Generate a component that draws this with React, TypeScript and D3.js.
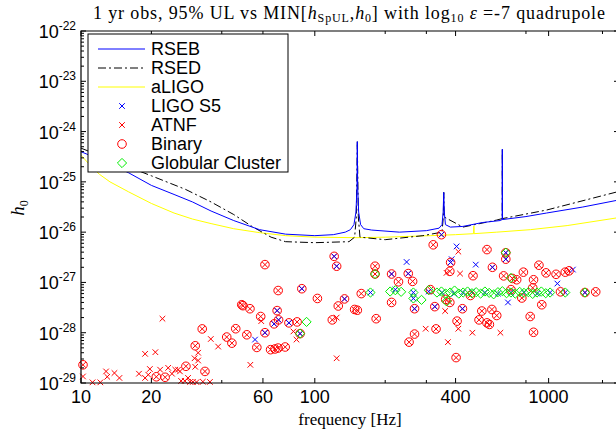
import React from 'react';
import * as d3 from 'd3';

// curves: [frequency Hz, h0]
const rseb: [number, number][] = [
  [10, 3.98e-25], [13, 2.4e-25], [16, 1.51e-25], [20, 8.51e-26], [25, 5.62e-26], [30, 3.98e-26],
  [36, 2.63e-26], [45, 1.7e-26], [58, 1.12e-26], [75, 9.12e-27], [100, 8.51e-27], [120, 8.91e-27],
  [135, 1.0e-26], [142, 1.12e-26], [147, 1.41e-26], [150, 2.51e-26], [151.5, 7.94e-26], [152, 6.31e-25],
  [152.5, 7.94e-26], [154, 2.51e-26], [157, 1.41e-26], [162, 1.17e-26], [175, 1.1e-26], [230, 1.0e-26],
  [300, 1.07e-26], [340, 1.2e-26], [350, 1.41e-26], [354, 2.51e-26], [356, 6.17e-26], [358, 2.51e-26],
  [362, 1.41e-26], [380, 1.26e-26], [430, 1.3e-26], [520, 1.55e-26], [620, 1.7e-26], [633, 1.78e-26],
  [634, 4.47e-25], [635, 1.78e-26], [800, 2.04e-26], [980, 2.4e-26], [1400, 3.16e-26], [2000, 4.37e-26],
];

const rsed: [number, number][] = [
  [10, 4.68e-25], [14, 2.51e-25], [20, 1.32e-25], [28, 7.08e-26], [36, 3.98e-26], [45, 2.24e-26],
  [54, 1.29e-26], [65, 7.94e-27], [75, 6.46e-27], [100, 6.17e-27], [140, 6.46e-27], [148, 7.94e-27],
  [150.5, 2.0e-26], [152, 6.31e-25], [153.5, 2.0e-26], [156, 7.94e-27], [200, 7.08e-27], [290, 8.51e-27],
  [350, 1.0e-26], [354.5, 2.0e-26], [356, 6.17e-26], [357.5, 2.0e-26], [430, 1.26e-26], [600, 1.74e-26],
  [633, 1.86e-26], [634, 4.47e-25], [635, 1.86e-26], [980, 2.75e-26], [2000, 6.46e-26],
];

const aligo: [number, number][] = [
  [10, 3.39e-25], [11, 2.09e-25], [12, 1.41e-25], [13.3, 1.0e-25], [16, 6.31e-26], [20, 3.72e-26],
  [25, 2.4e-26], [30, 1.82e-26], [36, 1.48e-26], [45, 1.17e-26], [58, 9.77e-27], [75, 8.51e-27],
  [100, 7.94e-27], [150, 7.76e-27], [200, 7.94e-27], [312, 8.51e-27], [400, 8.91e-27], [478, 9.33e-27],
  [479, 1.32e-26], [480, 9.33e-27], [600, 1.0e-26], [836, 1.12e-26], [1200, 1.35e-26], [2000, 1.95e-26],
];

// pulsars
const atnf: [number, number][] = [
  [10.2, 1.35e-29], [11.2, 1.03e-29], [12.1, 1.03e-29], [12.8, 1.7e-29], [12.95, 1.33e-29], [13.9, 1.58e-29],
  [14.6, 1.26e-29], [17.7, 1.53e-29], [18.8, 1.26e-29], [18.8, 3.8e-29], [20.8, 4.1e-29], [22.3, 1.9e-28],
  [19.7, 1.9e-29], [19.4, 1.46e-29], [21.8, 1.84e-29], [23.6, 2.0e-29], [24.5, 1.53e-29], [25.3, 1.84e-29],
  [26.0, 1.84e-29], [26.5, 1.7e-29], [26.8, 1.1e-29], [27.8, 1.1e-29], [28.7, 1.26e-29], [29.3, 1.05e-29],
  [30.1, 1.05e-29], [31.2, 1.04e-29], [30.6, 3.1e-29], [31.7, 2.8e-29], [31.7, 4.0e-29], [30.8, 2.1e-29],
  [35.6, 1.05e-29], [33.2, 1.06e-29], [35.9, 7.5e-29], [38.6, 5.3e-29], [53, 2.3e-29], [59, 1.7e-28],
  [81, 1.06e-28], [83.5, 7.3e-29], [124, 3.1e-29], [124, 2.0e-28], [411, 4.1e-27], [366, 1.55e-27],
  [418, 1.5e-27], [361, 2.7e-28], [298, 1.2e-28], [411, 1.2e-28], [472, 1.0e-28], [622, 1.0e-28],
  [371, 6.5e-29],
];

const binary: [number, number][] = [
  [10.2, 2.3e-29], [21.0, 1.33e-29], [22.9, 1.3e-29], [28.1, 2.15e-29], [30.8, 5.5e-29], [33.9, 1.7e-29],
  [33.0, 1.19e-28], [42.0, 8.2e-29], [44.2, 6.2e-29], [45.9, 1.2e-28], [48.7, 3.6e-28], [49.3, 3.45e-28],
  [52.8, 3.0e-28], [51.2, 9.1e-29], [56.5, 5.1e-29], [58.7, 2.1e-28], [61.2, 2.26e-27], [64.7, 4.6e-29],
  [67.5, 4.75e-29], [69.7, 4.95e-29], [74.7, 5.2e-29], [69.7, 6.9e-28], [84, 1.64e-28], [102.6, 4.8e-28],
  [118.8, 1.8e-28], [126, 3.4e-28], [321, 5.6e-27], [545, 4.5e-27], [181, 2.1e-27], [909, 2.2e-27],
  [975, 1.55e-27], [1076, 1.45e-27], [1178, 1.6e-27], [1223, 1.7e-27], [780, 1.6e-27], [475, 1.36e-27],
  [378, 1.66e-27], [642, 1.35e-27], [228, 1.03e-27], [262, 1.05e-27], [862, 1.13e-27], [158, 6.0e-28],
  [148, 2.9e-28], [152, 2.8e-28], [183, 1.9e-28], [213, 4.0e-28], [378, 4.0e-28], [518, 2.7e-28],
  [572, 2.9e-28], [406, 1.7e-28], [504, 1.8e-28], [545, 1.57e-28], [558, 1.46e-28], [600, 2.2e-28],
  [834, 2.1e-28], [935, 3.6e-28], [768, 4.9e-28], [330, 1.19e-28], [862, 1.02e-28], [267, 9.4e-29],
  [253, 6.5e-29], [402, 3.2e-29], [348, 8.9e-27], [121, 3.3e-27], [124, 2.1e-27], [656, 2.9e-27],
  [381, 2.5e-27], [575, 2.0e-27], [213, 1.47e-27], [251, 1.5e-27], [61.2, 1.0e-28], [69, 2.75e-28],
  [70, 1.8e-28], [67, 1.5e-28], [77.5, 1.57e-28], [86.5, 9.6e-29], [88, 7.5e-28], [267, 3.0e-28],
  [326, 3.3e-28], [428, 3.0e-28], [134, 4.7e-28], [181, 1.47e-27], [656, 3.9e-27], [312, 7.2e-28],
  [363, 4.6e-28], [463, 5.5e-28], [690, 7.2e-28], [855, 7.8e-28], [1124, 6.5e-28], [1430, 6.3e-28],
  [1590, 6.5e-28], [730, 1.13e-27], [700, 1.2e-27],
];

const ligoS5: [number, number][] = [
  [348, 8.9e-27], [121, 3.3e-27], [124, 2.1e-27], [404, 5.2e-27], [656, 3.9e-27], [656, 2.9e-27],
  [247, 2.55e-27], [381, 2.5e-27], [385, 2.9e-27], [488, 2.26e-27], [575, 2.0e-27], [213, 1.47e-27],
  [251, 1.5e-27], [1270, 1.8e-27], [1090, 9.5e-28], [55.5, 7.3e-29], [61.2, 1.0e-28], [69, 2.75e-28],
  [70, 1.8e-28], [67, 1.5e-28], [77.5, 1.57e-28], [86.5, 9.6e-29], [88, 7.5e-28], [267, 3.0e-28],
  [326, 3.3e-28], [428, 3.0e-28], [670, 4.0e-28], [134, 4.7e-28], [173, 6.3e-28], [221, 7.2e-28],
  [264, 6.3e-28], [264, 4.8e-28], [307, 6.6e-28], [350, 6.3e-28], [395, 6.0e-28], [430, 6.3e-28],
  [470, 6.5e-28], [534, 6.3e-28], [607, 6.0e-28], [690, 6.3e-28], [785, 6.3e-28], [892, 6.0e-28],
  [1015, 6.3e-28], [1178, 6.3e-28], [1430, 6.3e-28],
];

const globular: [number, number][] = [
  [86.5, 9.6e-29], [92.2, 1.64e-28], [181, 1.47e-27], [656, 3.9e-27], [690, 1.23e-27], [366, 4.2e-28],
  [173, 6.3e-28], [210, 6.6e-28], [221, 7.0e-28], [234, 6.5e-28], [264, 6.3e-28], [264, 4.8e-28],
  [286, 4.5e-28], [307, 7.0e-28], [333, 6.3e-28], [348, 6.6e-28], [363, 6.0e-28], [379, 6.3e-28],
  [396, 6.9e-28], [413, 6.0e-28], [431, 6.3e-28], [450, 6.6e-28], [470, 6.1e-28], [490, 6.4e-28],
  [512, 6.0e-28], [534, 6.6e-28], [557, 6.2e-28], [582, 5.8e-28], [607, 6.4e-28], [634, 6.7e-28],
  [661, 6.1e-28], [690, 6.3e-28], [720, 6.0e-28], [752, 6.5e-28], [785, 6.2e-28], [819, 6.4e-28],
  [855, 5.9e-28], [892, 6.3e-28], [931, 6.6e-28], [972, 6.1e-28], [1015, 6.3e-28], [1178, 6.3e-28],
  [1430, 6.3e-28],
];

const xTicks = [10, 20, 40, 60, 100, 200, 300, 400, 800, 1000, 1700];
const xTickLabels = [10, 20, 60, 100, 400, 1000];
const yExponents = [-29, -28, -27, -26, -25, -24, -23, -22];

const legendItems = ['RSEB', 'RSED', 'aLIGO', 'LIGO S5', 'ATNF', 'Binary', 'Globular Cluster'];

const L = 81, T = 31, R = 619, B = 383;
const sans = 'Liberation Sans, Arial, Helvetica, sans-serif';
const serif = 'Liberation Serif, Times New Roman, serif';

const xMark = 'M-2.8,-2.8L2.8,2.8M-2.8,2.8L2.8,-2.8';
const diamond = 'M0,-4.6L4.6,0L0,4.6L-4.6,0Z';

export default function App() {
  const x = d3.scaleLog().domain([10, 2000]).range([L, R]);
  const y = d3.scaleLog().domain([1e-29, 1e-22]).range([B, T]);
  const line = d3.line<[number, number]>().x(d => x(d[0])).y(d => y(d[1]));

  const yMinor: number[] = [];
  for (let e = -29; e < -22; e++) for (let m = 2; m <= 9; m++) yMinor.push(m * Math.pow(10, e));

  const pt = (d: [number, number]) => `translate(${x(d[0])},${y(d[1])})`;

  return (
    <svg width={616} height={430} style={{ position: 'absolute', left: 0, top: 0, background: '#fff' }}>
      <defs>
        <clipPath id="plot"><rect x={L} y={T} width={R - L} height={B - T} /></clipPath>
      </defs>
      <rect width={616} height={430} fill="#fff" />

      <g clipPath="url(#plot)" fill="none" strokeWidth={1}>
        <path d={line(aligo) || ''} stroke="#ffff00" />
        <path d={line(rsed) || ''} stroke="#000" strokeDasharray="8,3,2,3" />
        <path d={line(rseb) || ''} stroke="#0000ff" />
      </g>

      <g fill="none" strokeWidth={1}>
        {atnf.concat(binary).map((d, i) => <path key={'a' + i} d={xMark} transform={pt(d)} stroke="#ff0000" />)}
        {ligoS5.map((d, i) => <path key={'s' + i} d={xMark} transform={pt(d)} stroke="#0000ff" />)}
        {binary.map((d, i) => <circle key={'b' + i} r={4.3} transform={pt(d)} stroke="#ff0000" />)}
        {globular.map((d, i) => <path key={'g' + i} d={diamond} transform={pt(d)} stroke="#00ee00" />)}
      </g>

      {/* axes box */}
      <g stroke="#000" fill="none">
        <path d={`M${L},${B}H${R}V${T}H${L}Z`} strokeWidth={1.2} />
        {xTicks.map(t => {
          const len = xTickLabels.includes(t) ? 5 : 3;
          return (
            <g key={'xt' + t}>
              <line x1={x(t)} x2={x(t)} y1={B} y2={B - len} />
              <line x1={x(t)} x2={x(t)} y1={T} y2={T + len} />
            </g>
          );
        })}
        {yExponents.map(e => (
          <g key={'yt' + e}>
            <line x1={L} x2={L + 5} y1={y(Math.pow(10, e))} y2={y(Math.pow(10, e))} />
            <line x1={R} x2={R - 5} y1={y(Math.pow(10, e))} y2={y(Math.pow(10, e))} />
          </g>
        ))}
        {yMinor.map((t, i) => (
          <g key={'ym' + i}>
            <line x1={L} x2={L + 3} y1={y(t)} y2={y(t)} />
            <line x1={R} x2={R - 3} y1={y(t)} y2={y(t)} />
          </g>
        ))}
      </g>

      <g fontFamily={sans} fontSize={18} fill="#000">
        {xTickLabels.map(t => (
          <text key={'xl' + t} x={x(t)} y={403} textAnchor="middle">{t}</text>
        ))}
        {yExponents.map(e => (
          <text key={'yl' + e} x={76} y={y(Math.pow(10, e)) + 7} textAnchor="end">
            10<tspan fontSize={12} dy={-8}>{'-' + Math.abs(e)}</tspan>
          </text>
        ))}
      </g>

      {/* title */}
      <text x={349} y={19} textAnchor="middle" fontFamily={serif} fontSize={18} textLength={512} lengthAdjust="spacing">
        1 yr obs, 95% UL vs MIN[<tspan fontStyle="italic">h</tspan>
        <tspan fontSize={12} dy={3}>SpUL</tspan>
        <tspan dy={-3}>,</tspan><tspan fontStyle="italic">h</tspan>
        <tspan fontSize={12} dy={3}>0</tspan>
        <tspan dy={-3}>] with log</tspan>
        <tspan fontSize={12} dy={3}>10</tspan>
        <tspan dy={-3}> </tspan><tspan fontStyle="italic">ε</tspan>
        <tspan> =-7 quadrupole</tspan>
      </text>

      <text x={350} y={425} textAnchor="middle" fontFamily={serif} fontSize={17}>frequency [Hz]</text>
      <text transform="translate(24,208) rotate(-90)" textAnchor="middle" fontFamily={serif} fontSize={19} fontStyle="italic">
        h<tspan fontSize={12} dy={4} fontStyle="normal">0</tspan>
      </text>

      {/* legend */}
      <g>
        <rect x={88} y={34} width={200} height={138} fill="#fff" stroke="#000" strokeWidth={1} />
        {legendItems.map((name, i) => {
          const ly = 49 + i * 19;
          let sym: React.ReactNode = null;
          if (i === 0) sym = <line x1={98} x2={145} y1={ly} y2={ly} stroke="#0000ff" />;
          if (i === 1) sym = <line x1={98} x2={145} y1={ly} y2={ly} stroke="#000" strokeDasharray="8,3,2,3" />;
          if (i === 2) sym = <line x1={98} x2={145} y1={ly} y2={ly} stroke="#ffff00" />;
          if (i === 3) sym = <path d={xMark} transform={`translate(122,${ly})`} stroke="#0000ff" fill="none" />;
          if (i === 4) sym = <path d={xMark} transform={`translate(122,${ly})`} stroke="#ff0000" fill="none" />;
          if (i === 5) sym = <circle cx={122} cy={ly} r={4.3} stroke="#ff0000" fill="none" />;
          if (i === 6) sym = <path d={diamond} transform={`translate(122,${ly})`} stroke="#00ee00" fill="none" />;
          return (
            <g key={name}>
              {sym}
              <text x={151} y={ly + 6} fontFamily={sans} fontSize={18}>{name}</text>
            </g>
          );
        })}
      </g>
    </svg>
  );
}
